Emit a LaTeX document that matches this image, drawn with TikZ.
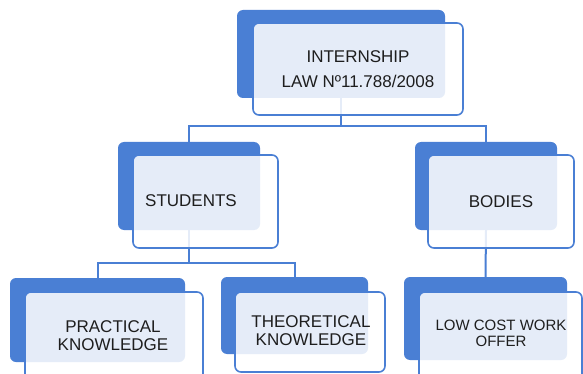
\documentclass[tikz,border=0pt]{standalone}
\usepackage{fontspec}
\setmainfont{Liberation Sans}
\usetikzlibrary{backgrounds}
\definecolor{boxblue}{RGB}{74,127,212}
\definecolor{txt}{RGB}{30,30,30}
\tikzset{
  backbox/.style={rectangle, rounded corners=6pt, fill=boxblue, draw=none, inner sep=0pt},
  frontbox/.style={rectangle, rounded corners=6pt, draw=boxblue, line width=1.6pt, fill=white, fill opacity=0.86, text opacity=1, inner sep=0pt, align=center, text=txt},
  lbl/.style={text=txt, align=center, inner sep=0pt},
  conn/.style={draw=boxblue, line width=2pt},
  big/.style={font=\fontsize{17}{25}\selectfont},
  mid/.style={font=\fontsize{17}{18}\selectfont},
  small/.style={font=\fontsize{15}{16.5}\selectfont}
}
\begin{document}
\begin{tikzpicture}[x=1pt,y=-1pt]
\useasboundingbox (0,0) rectangle (583,374);
\clip (0,0) rectangle (583,374);
% top
\node[backbox, minimum width=208pt, minimum height=88pt] (topb) at (341,54) {};
\node[frontbox, big, minimum width=210pt, minimum height=92pt] (topf) at (358,69) {INTERNSHIP\\LAW Nº11.788/2008};
% students
\node[backbox, minimum width=142pt, minimum height=88pt] (stub) at (189,186) {};
\node[frontbox, minimum width=145pt, minimum height=93pt] (stuf) at (205.5,201.5) {};
\node[lbl, big] (stut) at (191,201) {STUDENTS};
% bodies
\node[backbox, minimum width=142pt, minimum height=88pt] (bodb) at (486,186) {};
\node[frontbox, big, minimum width=146pt, minimum height=93pt] (bodf) at (501,201.5) {BODIES};
% practical
\node[backbox, minimum width=175pt, minimum height=84pt] (prab) at (97.5,320) {};
\node[frontbox, minimum width=178pt, minimum height=94pt] (praf) at (114,339) {};
\node[lbl, mid] (prat) at (113,335.5) {PRACTICAL\\KNOWLEDGE};
% theoretical
\node[backbox, minimum width=147pt, minimum height=77pt] (theb) at (294.5,315.5) {};
\node[frontbox, minimum width=150pt, minimum height=80pt] (thef) at (310,332) {};
\node[lbl, mid] (thet) at (311,330.5) {THEORETICAL\\KNOWLEDGE};
% low cost
\node[backbox, minimum width=163pt, minimum height=83pt] (lowb) at (485.5,318.5) {};
\node[frontbox, minimum width=163pt, minimum height=94pt] (lowf) at (500.5,339) {};
\node[lbl, small] (lowt) at (501,333.5) {LOW COST WORK\\OFFER};
% connectors
\begin{pgfonlayer}{background}
\fill[white] (0,0) rectangle (583,374);
\path (topb.south) ++(0,28) coordinate (j1);
\path (stub.south) ++(0,33) coordinate (j2);
\draw[conn] (topb.south) -- (j1) -| (stub.north);
\draw[conn] (j1) -| (bodb.north);
\draw[conn] (stub.south) -- (j2) -| (prab.north);
\draw[conn] (j2) -| (theb.north);
\draw[conn] (bodb.south) -- (lowb.north);
\end{pgfonlayer}
\end{tikzpicture}
\end{document}
